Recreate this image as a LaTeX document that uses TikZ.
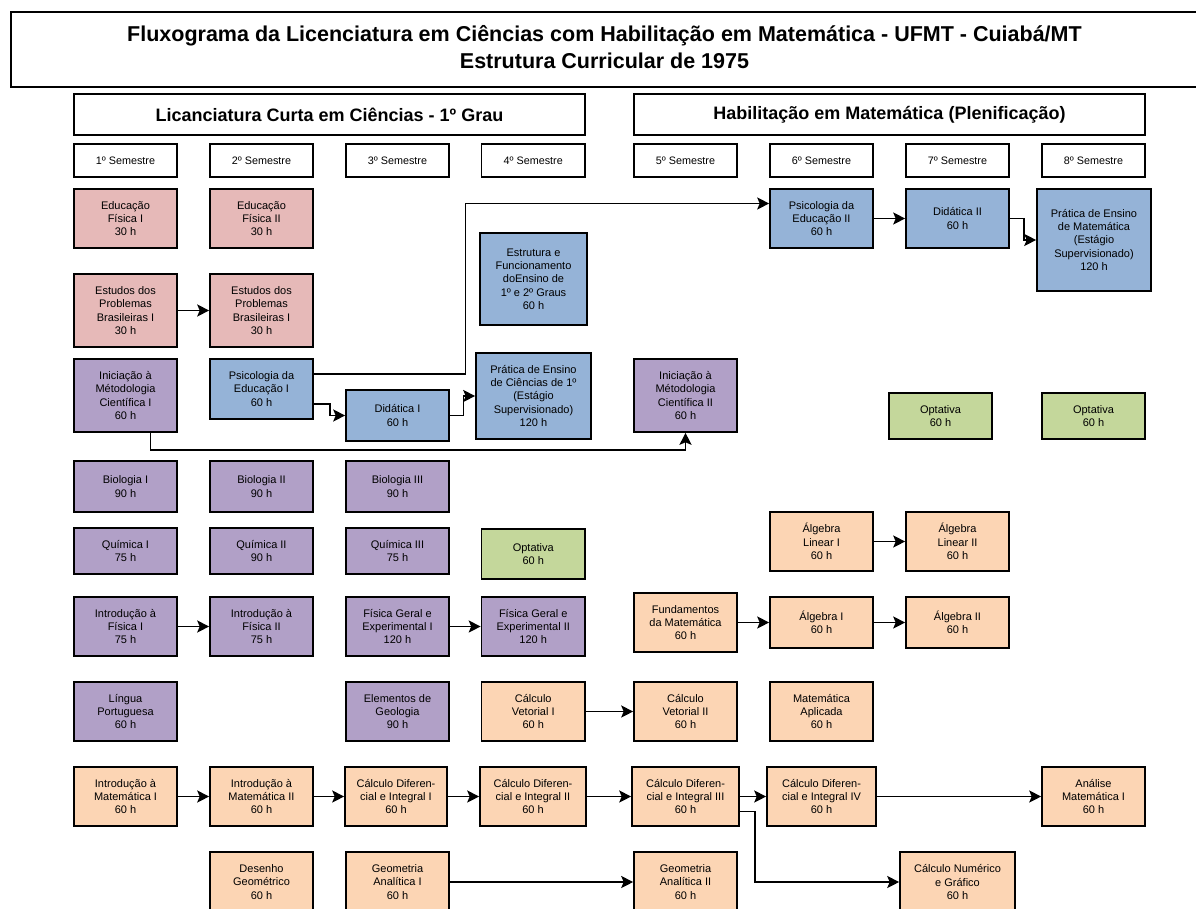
\documentclass[tikz,border=0pt]{standalone}
\usepackage{fontspec}
\setmainfont{Liberation Sans}
\usetikzlibrary{arrows.meta}
\definecolor{cpink}{HTML}{E6B9B8}
\definecolor{cpurple}{HTML}{B1A0C7}
\definecolor{cblue}{HTML}{95B3D7}
\definecolor{cgreen}{HTML}{C4D79B}
\definecolor{corange}{HTML}{FCD5B4}
\newcommand\bx[7]{\node[#1, minimum width={#5-#3}, minimum height={#6-#4}] (#2) at ({(#3+#5)/2},{-(#4+#6)/2}) {#7};}
\begin{document}
\begin{tikzpicture}[x=1pt,y=1pt,
  base/.style={draw=black, line width=1.6pt, align=center, inner sep=0pt},
  tbox/.style={base, font=\fontsize{21.5}{26.5}\selectfont\bfseries},
  sbox/.style={base, font=\fontsize{18}{21}\selectfont\bfseries},
  sem/.style={base, font=\fontsize{10.8}{13}\selectfont},
  cbox/.style={base, font=\fontsize{11}{13.3}\selectfont},
  pk/.style={cbox, fill=cpink},
  pu/.style={cbox, fill=cpurple},
  bl/.style={cbox, fill=cblue},
  gr/.style={cbox, fill=cgreen},
  og/.style={cbox, fill=corange},
  arr/.style={line width=1.4pt, -{Stealth[length=12pt,width=12pt,inset=2.5pt]}}]
\useasboundingbox (0,0) rectangle (1196,-909);
% headers
\bx{tbox}{title}{11}{12}{1198}{87}{\raisebox{2pt}{\begin{tabular}{@{}c@{}}Fluxograma da Licenciatura em Ciências com Habilitação em Matemática - UFMT - Cuiabá/MT\\Estrutura Curricular de 1975\end{tabular}}}
\bx{sbox}{lic}{74}{94}{585}{135}{Licanciatura Curta em Ciências - 1º Grau}
\bx{sbox}{hab}{634}{94}{1145}{135}{Habilitação em Matemática (Plenificação)}
\bx{sem}{s1}{74}{144}{177}{177}{1º Semestre}
\bx{sem}{s2}{210}{144}{313}{177}{2º Semestre}
\bx{sem}{s3}{346}{144}{449}{177}{3º Semestre}
\bx{sem}{s4}{481.5}{144}{585}{177}{4º Semestre}
\bx{sem}{s5}{634}{144}{737}{177}{5º Semestre}
\bx{sem}{s6}{770}{144}{873}{177}{6º Semestre}
\bx{sem}{s7}{906}{144}{1009}{177}{7º Semestre}
\bx{sem}{s8}{1042}{144}{1145}{177}{8º Semestre}
% courses
\bx{pk}{ef1}{74}{189}{177}{248}{Educação\\Física I\\30 h}
\bx{pk}{ef2}{210}{189}{313}{248}{Educação\\Física II\\30 h}
\bx{pk}{ep1}{74}{274}{177}{347}{Estudos dos\\Problemas\\Brasileiras I\\30 h}
\bx{pk}{ep2}{210}{274}{313}{347}{Estudos dos\\Problemas\\Brasileiras I\\30 h}
\bx{pu}{ini1}{74}{359}{177}{432}{Iniciação à\\Métodologia\\Científica I\\60 h}
\bx{bl}{psi1}{210}{359}{313}{419}{Psicologia da\\Educação I\\60 h}
\bx{bl}{did1}{346}{390}{449}{441}{Didática I\\60 h}
\bx{bl}{est}{480}{233}{587}{325}{Estrutura e\\Funcionamento\\doEnsino de\\1º e 2º Graus\\60 h}
\bx{bl}{prc}{476}{353}{591}{439}{Prática de Ensino\\de Ciências de 1º\\(Estágio\\Supervisionado)\\120 h}
\bx{bl}{psi2}{770}{189}{873}{248}{Psicologia da\\Educação II\\60 h}
\bx{bl}{did2}{906}{189}{1009}{248}{Didática II\\60 h}
\bx{bl}{prm}{1037}{189}{1151}{291}{Prática de Ensino\\de Matemática\\(Estágio\\Supervisionado)\\120 h}
\bx{pu}{ini2}{634}{359}{737}{432}{Iniciação à\\Métodologia\\Científica II\\60 h}
\bx{gr}{opt7}{889}{393}{992}{439}{Optativa\\60 h}
\bx{gr}{opt8}{1042}{393}{1145}{439}{Optativa\\60 h}
\bx{pu}{bio1}{74}{461}{177}{512}{Biologia I\\90 h}
\bx{pu}{bio2}{210}{461}{313}{512}{Biologia II\\90 h}
\bx{pu}{bio3}{346}{461}{449}{512}{Biologia III\\90 h}
\bx{pu}{qui1}{74}{528}{177}{574}{Química I\\75 h}
\bx{pu}{qui2}{210}{528}{313}{574}{Química II\\90 h}
\bx{pu}{qui3}{346}{528}{449}{574}{Química III\\75 h}
\bx{gr}{opt4}{481.5}{529}{585}{579}{Optativa\\60 h}
\bx{pu}{if1}{74}{597}{177}{656}{Introdução à\\Física I\\75 h}
\bx{pu}{if2}{210}{597}{313}{656}{Introdução à\\Física II\\75 h}
\bx{pu}{fg1}{346}{597}{449}{656}{Física Geral e\\Experimental I\\120 h}
\bx{pu}{fg2}{481.5}{597}{585}{656}{Física Geral e\\Experimental II\\120 h}
\bx{og}{al1}{770}{512}{873}{571}{Álgebra\\Linear I\\60 h}
\bx{og}{al2}{906}{512}{1009}{571}{Álgebra\\Linear II\\60 h}
\bx{og}{fund}{634}{593}{737}{652}{Fundamentos\\da Matemática\\60 h}
\bx{og}{alg1}{770}{597}{873}{648}{Álgebra I\\60 h}
\bx{og}{alg2}{906}{597}{1009}{648}{Álgebra II\\60 h}
\bx{pu}{lp}{74}{682}{177}{741}{Língua\\Portuguesa\\60 h}
\bx{pu}{geo}{346}{682}{449}{741}{Elementos de\\Geologia\\90 h}
\bx{og}{cv1}{481.5}{682}{585}{741}{Cálculo\\Vetorial I\\60 h}
\bx{og}{cv2}{634}{682}{737}{741}{Cálculo\\Vetorial II\\60 h}
\bx{og}{ma}{770}{682}{873}{741}{Matemática\\Aplicada\\60 h}
\bx{og}{im1}{74}{767}{177}{826}{Introdução à\\Matemática I\\60 h}
\bx{og}{im2}{210}{767}{313}{826}{Introdução à\\Matemática II\\60 h}
\bx{og}{cd1}{345}{767}{447}{826}{Cálculo Diferen-\\cial e Integral I\\60 h}
\bx{og}{cd2}{480}{767}{586}{826}{Cálculo Diferen-\\cial e Integral II\\60 h}
\bx{og}{cd3}{632}{767}{739}{826}{Cálculo Diferen-\\cial e Integral III\\60 h}
\bx{og}{cd4}{767}{767}{876}{826}{Cálculo Diferen-\\cial e Integral IV\\60 h}
\bx{og}{ana}{1042}{767}{1145}{826}{Análise\\Matemática I\\60 h}
\bx{og}{des}{210}{852}{313}{912}{Desenho\\Geométrico\\60 h}
\bx{og}{ga1}{346}{852}{449}{912}{Geometria\\Analítica I\\60 h}
\bx{og}{ga2}{634}{852}{737}{912}{Geometria\\Analítica II\\60 h}
\bx{og}{num}{900}{852}{1015}{912}{Cálculo Numérico\\e Gráfico\\60 h}
% connectors
\draw[arr] (ep1) -- (ep2);
\draw[arr] ([yshift=15pt]psi1.east) -- ++(151.5,0) |- ([yshift=15pt]psi2.west);
\draw[arr] ([yshift=-15pt]psi1.east) -- ++(16,0) |- (did1.west);
\draw[arr] (did1.east) -- ++(13.5,0) |- (prc.west);
\draw[arr] ([xshift=25pt]ini1.south) -- ++(0,-17) -| (ini2.south);
\draw[arr] (psi2) -- (did2);
\draw[arr] (did2.east) -- ++(14,0) |- (prm.west);
\draw[arr] (if1) -- (if2);
\draw[arr] (fg1) -- (fg2);
\draw[arr] (al1) -- (al2);
\draw[arr] (fund) -- (alg1);
\draw[arr] (alg1) -- (alg2);
\draw[arr] (cv1) -- (cv2);
\draw[arr] (im1) -- (im2);
\draw[arr] (im2) -- (cd1);
\draw[arr] (cd1) -- (cd2);
\draw[arr] (cd2) -- (cd3);
\draw[arr] (cd3) -- (cd4);
\draw[arr] (cd4) -- (ana);
\draw[arr] ([yshift=-15pt]cd3.east) -- ++(15,0) |- (num.west);
\draw[arr] (ga1) -- (ga2);
\end{tikzpicture}
\end{document}
